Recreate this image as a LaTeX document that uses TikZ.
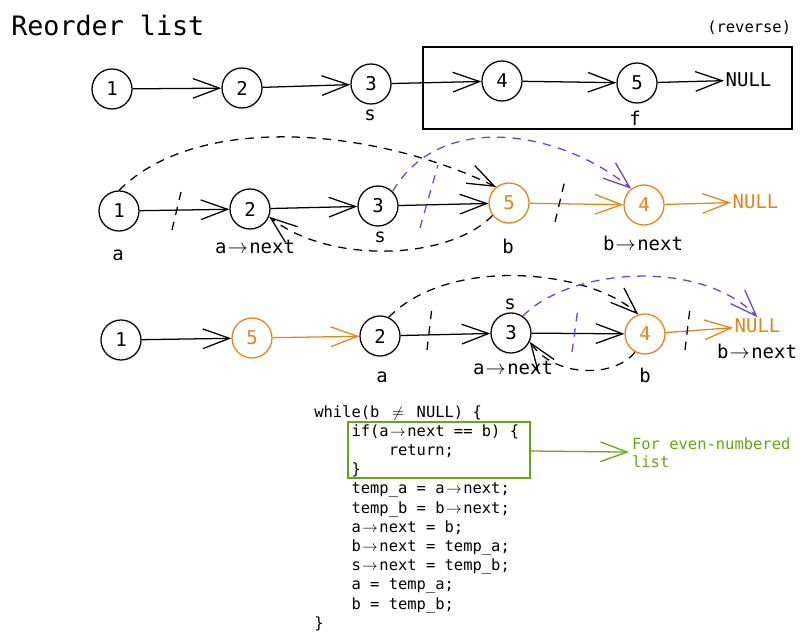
\documentclass[tikz,border=0pt]{standalone}
\usepackage{fontspec}
\setmainfont{DejaVu Sans Mono}
\usetikzlibrary{arrows.meta}

\definecolor{orng}{RGB}{232,131,20}
\definecolor{vio}{RGB}{103,65,217}
\definecolor{grn}{RGB}{102,168,15}

\newcommand\arw{\makebox[1.204em]{$\rightarrow$}} % ligature "->" spans two cells
\newcommand\nq{\makebox[1.204em]{$\neq$}}
\newcommand\ind{\hspace*{2.408em}} % four cells

\begin{document}
\begin{tikzpicture}[x=0.025cm, y=-0.025cm,
	nd/.style={circle, draw, line width=0.9pt, minimum size=1cm, inner sep=0pt, font=\fontsize{13.5}{16}\selectfont},
	lbl/.style={inner sep=0pt, font=\fontsize{13.5}{16}\selectfont},
	nul/.style={inner sep=1pt, font=\fontsize{13.5}{16}\selectfont},
	lnk/.style={line width=0.9pt, -{Straight Barb[length=19pt,width=14pt]}},
	dsh/.style={lnk, dash pattern=on 6pt off 5pt},
	cut/.style={line width=0.9pt, dash pattern=on 6pt off 5pt},
	code/.style={inner sep=0pt, anchor=base west, font=\fontsize{11}{13.6}\selectfont}]
	\useasboundingbox (0,0) rectangle (808,642);
	
	% title
	\node[anchor=base west, inner sep=0pt, font=\fontsize{19}{23}\selectfont] (title) at (11,36) {Reorder list};
	
	% row 1: split at s, reverse the second half
	\node[nd] (A1) at (112,89) {1};
	\node[nd] (A2) at (242,88) {2};
	\node[nd] (A3) at (371,84) {3};
	\node[nd] (A4) at (502,81) {4};
	\node[nd] (A5) at (637,83) {5};
	\node[nul, anchor=west] (AN) at (724,80) {NULL};
	\node[lbl] (As) at (370,115) {s};
	\node[lbl] (Af) at (635,118) {f};
	\draw[line width=0.9pt] (423,47) rectangle (792,129);
	\node[anchor=base west, inner sep=0pt, font=\fontsize{11}{13}\selectfont] (rev) at (707,33) {(reverse)};
	\draw[lnk] (A1) -- (A2);
	\draw[lnk] (A2) -- (A3);
	\draw[lnk] (A3) -- (A4);
	\draw[lnk] (A4) -- (A5);
	\draw[lnk] (A5) -- (AN);
	
	% row 2: first swap
	\node[nd] (B1) at (119,211) {1};
	\node[nd] (B2) at (250,209) {2};
	\node[nd] (B3) at (378,206) {3};
	\node[nd, orng] (B5) at (509,203) {5};
	\node[nd, orng] (B4) at (644,205) {4};
	\node[nul, orng, anchor=west] (BN) at (731,202) {NULL};
	\node[lbl] (Ba) at (118,255) {a};
	\node[lbl] (Ban) at (255,247) {a\arw next};
	\node[lbl] (Bs) at (380,237) {s};
	\node[lbl] (Bb) at (508,246) {b};
	\node[lbl] (Bbn) at (643,243) {b\arw next};
	\draw[lnk] (B1) -- (B2);
	\draw[lnk] (B2) -- (B3);
	\draw[lnk] (B3) -- (B5);
	\draw[lnk, orng] (B5) -- (B4);
	\draw[lnk, orng] (B4) -- (BN);
	% new pointers
	\draw[dsh] (B1.north) .. controls (200,110) and (380,130) .. (B5.129);
	\draw[dsh] (B5.217) .. controls (450,260) and (330,265) .. (B2.338);
	\draw[dsh, vio] (B3.45) .. controls (440,110) and (560,130) .. (B4.128);
	% cut links
	\draw[cut] (172,230) -- (181,192);
	\draw[cut] (555,222) -- (565,180);
	\draw[cut, vio] (420,228) -- (438,165);
	
	% row 3: second swap
	\node[nd] (C1) at (121,340) {1};
	\node[nd, orng] (C5) at (252,338) {5};
	\node[nd] (C2) at (380,336) {2};
	\node[nd] (C3) at (511,333) {3};
	\node[nd, orng] (C4) at (645,334) {4};
	\node[nul, orng, anchor=west] (CN) at (733,326) {NULL};
	\node[lbl] (Ca) at (382,377) {a};
	\node[lbl] (Cs) at (510,304) {s};
	\node[lbl] (Can) at (513,368) {a\arw next};
	\node[lbl] (Cb) at (645,375) {b};
	\node[lbl] (Cbn) at (757,351) {b\arw next};
	\draw[lnk] (C1) -- (C5);
	\draw[lnk, orng] (C5) -- (C2);
	\draw[lnk] (C2) -- (C3);
	\draw[lnk] (C3) -- (C4);
	\draw[lnk, orng] (C4) -- (CN);
	% new pointers
	\draw[dsh] (C2.65) .. controls (450,255) and (590,270) .. (C4.109);
	\draw[dsh, vio] (C3.55) .. controls (570,268) and (700,258) .. (CN.north);
	\draw[dsh] (C4.241) .. controls (615,378) and (555,378) .. (C3.335);
	% cut links
	\draw[cut] (427,350) -- (432,307);
	\draw[cut] (685,350) -- (690,308);
	\draw[cut, vio] (572,352) -- (578,308);
	
	% code
	\foreach \codeline [count=\i from 0] in {
		{while(b \nq{} NULL) \{},
		{\ind if(a\arw next == b) \{},
		{\ind\ind return;},
		{\ind \}},
		{\ind temp\_a = a\arw next;},
		{\ind temp\_b = b\arw next;},
		{\ind a\arw next = b;},
		{\ind b\arw next = temp\_a;},
		{\ind s\arw next = temp\_b;},
		{\ind a = temp\_a;},
		{\ind b = temp\_b;},
		{\}}}
	\node[code] (L\i) at (314,417+19.2*\i) {\codeline};
	
	% even-numbered case
	\node[draw=grn, line width=0.9pt, minimum width=4.55cm, minimum height=1.4cm] (ifbox) at (439,450) {};
	\node[anchor=west, align=left, inner sep=2pt, text=grn, font=\fontsize{11}{12.8}\selectfont] (even) at (629,453) {For even-numbered\\list};
	\draw[lnk, grn] (ifbox) -- (even);
\end{tikzpicture}
\end{document}
